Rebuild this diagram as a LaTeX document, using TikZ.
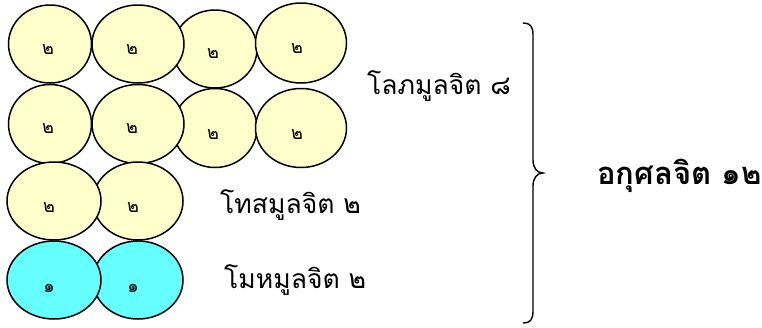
\documentclass[tikz,border=0pt]{standalone}
\usepackage{fontspec}
\newfontfamily\thai[Script=Thai]{Loma}
\usetikzlibrary{shapes.geometric}
\definecolor{cellyellow}{RGB}{255,255,204}
\definecolor{cellcyan}{RGB}{102,255,255}
\begin{document}
\begin{tikzpicture}[x=1pt,y=-1pt,
  cell/.style={ellipse, draw=black, line width=1.5pt, fill=cellyellow, inner sep=0pt},
  cyancell/.style={cell, fill=cellcyan},
  num/.style={font=\thai\fontsize{18}{18}\selectfont, inner sep=0pt},
  lbl/.style={font=\thai\fontsize{26.5}{26.5}\selectfont, inner sep=0pt, anchor=west},
  big/.style={font=\thai\bfseries\fontsize{31}{31}\selectfont, inner sep=0pt, anchor=west}]
\useasboundingbox (0,0) rectangle (762,327);
% row 1
\node[cell, minimum width=83pt, minimum height=78pt] (a1) at (50,44) {};
\node[cell, minimum width=84pt, minimum height=78pt] (a3) at (215,49) {};
\node[cell, minimum width=92pt, minimum height=78pt] (a2) at (138,44) {};
\node[cell, minimum width=91pt, minimum height=80pt] (a4) at (301,43) {};
% row 2
\node[cell, minimum width=83pt, minimum height=79pt] (b1) at (50,124) {};
\node[cell, minimum width=84pt, minimum height=79pt] (b3) at (215,128) {};
\node[cell, minimum width=92pt, minimum height=79pt] (b2) at (138,124) {};
\node[cell, minimum width=91pt, minimum height=79pt] (b4) at (301,128) {};
% row 3
\node[cell, minimum width=90pt, minimum height=78pt] (c2) at (138,201) {};
\node[cell, minimum width=94pt, minimum height=78pt] (c1) at (54,201) {};
% row 4
\node[cyancell, minimum width=90pt, minimum height=78pt] (d2) at (138,280) {};
\node[cyancell, minimum width=94pt, minimum height=78pt] (d1) at (54,280) {};
% numbers
\node[num] (ta1) at (48,50) {๒};
\node[num] (ta2) at (132,50) {๒};
\node[num] (ta3) at (213,54) {๒};
\node[num] (ta4) at (297,49) {๒};
\node[num] (tb1) at (48,129) {๒};
\node[num] (tb2) at (132,129) {๒};
\node[num] (tb3) at (213,135) {๒};
\node[num] (tb4) at (297,135) {๒};
\node[num] (tc1) at (49,208) {๒};
\node[num] (tc2) at (133,208) {๒};
\node[num] (td1) at (49,288) {๑};
\node[num] (td2) at (133,288) {๑};
% labels
\node[lbl] (lobha) at (367,86) {โลภมูลจิต ๘};
\node[lbl] (dosa) at (220,205) {โทสมูลจิต ๒};
\node[lbl] (moha) at (224,280) {โมหมูลจิต ๒};
\node[big] (akusala) at (597,176) {อกุศลจิต ๑๒};
% brace
\draw[line width=1.4pt] (523,23) .. controls (530,23) and (533,26) .. (533,35) -- (533,160)
  .. controls (533,168) and (537,173) .. (543,173)
  .. controls (537,173) and (533,178) .. (533,186) -- (533,311)
  .. controls (533,320) and (530,323) .. (523,323);
\end{tikzpicture}
\end{document}
